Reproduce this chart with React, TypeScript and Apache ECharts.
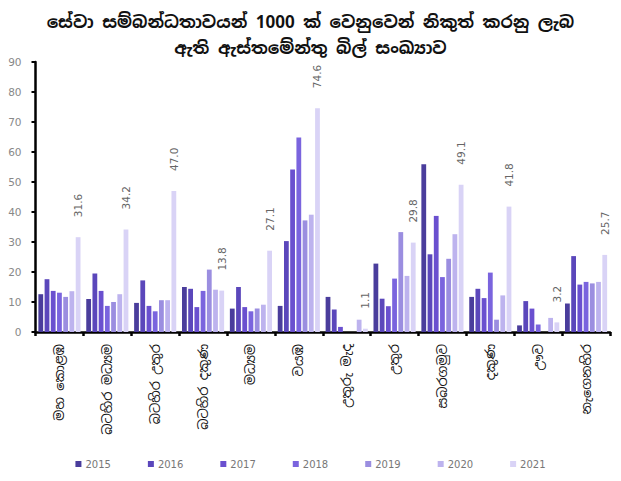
import React, { useEffect, useRef } from "react";
import * as echarts from "echarts";

const titleLines = [
  "සේවා සම්බන්ධතාවයන් 1000 ක් වෙනුවෙන් නිකුත් කරනු ලැබ",
  "ඇති ඇස්තමේන්තු බිල් සංඛ්‍යාව",
];

const categories = [
  "මහ කොළඹ",
  "බටහිර මධ්‍යම",
  "බටහිර උතුර",
  "බටහිර දකුණ",
  "මධ්‍යම",
  "වයඹ",
  "උතුරු මැද",
  "උතුර",
  "සබරගමුව",
  "දකුණ",
  "ඌව",
  "නැගෙනහිර",
];

const years = ["2015", "2016", "2017", "2018", "2019", "2020", "2021"];

const v2015 = [12.6, 11.0, 9.7, 15.0, 7.8, 8.7, 11.7, 22.8, 55.9, 11.7, 2.2, 9.5];
const v2016 = [17.6, 19.5, 17.2, 14.4, 15.0, 30.3, 7.5, 11.1, 25.9, 14.4, 10.3, 25.3];
const v2017 = [13.7, 13.7, 8.7, 8.3, 8.3, 54.2, 1.7, 8.6, 38.7, 11.3, 7.8, 15.8];
const v2018 = [13.1, 8.7, 6.9, 13.7, 6.9, 64.8, 0, 17.8, 18.3, 19.8, 2.5, 16.7];
const v2019 = [11.7, 10.0, 10.6, 20.8, 7.8, 37.2, 0, 33.3, 24.4, 4.1, 0, 16.2];
const v2020 = [13.6, 12.6, 10.6, 14.1, 9.1, 39.1, 4.1, 18.7, 32.6, 12.2, 4.7, 16.7];
const v2021 = [31.6, 34.2, 47.0, 13.8, 27.1, 74.6, 1.1, 29.8, 49.1, 41.8, 3.2, 25.7];

const seriesValues = [v2015, v2016, v2017, v2018, v2019, v2020, v2021];
const colors = ["#4a3d9c", "#5b47bb", "#6a50cf", "#7a64de", "#9b8ee0", "#bdb3ee", "#d9d3f6"];

const yTicks = { min: 0, max: 90, interval: 10 };

const sinhalaFont = "'Noto Sans Sinhala', 'Noto Sans', 'DejaVu Sans', sans-serif";

export default function App() {
  const ref = useRef<HTMLDivElement>(null);

  useEffect(() => {
    document.body.style.margin = "0";
    if (!ref.current) return;
    const chart = echarts.init(ref.current, undefined, { renderer: "svg" });
    const series = years.map((y, i) => ({
      name: y,
      type: "bar" as const,
      data: seriesValues[i],
      itemStyle: { color: colors[i] },
      barGap: "30%",
      barCategoryGap: "12%",
      label:
        i === years.length - 1
          ? {
              show: true,
              position: "top" as const,
              distance: 20,
              rotate: 90,
              align: "left" as const,
              verticalAlign: "middle" as const,
              color: "#666",
              fontSize: 10.5,
              fontFamily: "'DejaVu Sans', sans-serif",
              formatter: (p: any) => Number(p.value).toFixed(1),
            }
          : { show: false },
    }));

    chart.setOption({
      animation: false,
      title: {
        text: titleLines.join("\n"),
        left: "center",
        top: 4,
        textStyle: {
          fontSize: 17,
          fontWeight: "bold",
          color: "#111",
          fontFamily: sinhalaFont,
          lineHeight: 26,
        },
      },
      legend: {
        data: years,
        bottom: 7,
        left: "center",
        itemWidth: 6,
        itemHeight: 6,
        itemGap: 37,
        icon: "rect",
        textStyle: { color: "#777", fontSize: 10, fontFamily: "'DejaVu Sans', sans-serif", padding: [0, 0, 0, -1] },
      },
      grid: { left: 35.5, right: 11, top: 62, bottom: 149, containLabel: false },
      xAxis: {
        type: "category",
        data: categories,
        axisLine: { lineStyle: { color: "#000", width: 2.5 } },
        axisTick: { show: true, length: 4, lineStyle: { color: "#000", width: 2.5 } },
        axisLabel: {
          rotate: 90,
          interval: 0,
          color: "#111",
          fontSize: 13,
          margin: 12,
          fontFamily: sinhalaFont,
        },
      },
      yAxis: {
        type: "value",
        min: yTicks.min,
        max: yTicks.max,
        interval: yTicks.interval,
        splitLine: { show: false },
        axisLine: { show: true, lineStyle: { color: "#000", width: 2.5 } },
        axisTick: { show: true, length: 4, lineStyle: { color: "#000", width: 2 } },
        axisLabel: { color: "#888", fontSize: 10.5, margin: 14, fontFamily: "'DejaVu Sans', sans-serif" },
      },
      series,
    });
    return () => chart.dispose();
  }, []);

  return <div ref={ref} style={{ width: 621, height: 481 }} />;
}
